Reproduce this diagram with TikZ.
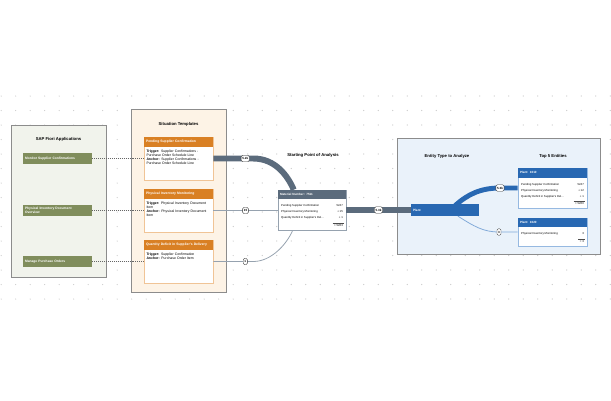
\documentclass[tikz,border=0pt]{standalone}
\usepackage{fontspec}
\setmainfont{Liberation Sans}
\usetikzlibrary{calc}
\usetikzlibrary{positioning}
\newlength{\pxu}
\setlength{\pxu}{0.05cm}
\definecolor{fioribg}{RGB}{241,243,236}
\definecolor{fioribtn}{RGB}{128,141,92}
\definecolor{tplbg}{RGB}{253,243,230}
\definecolor{tplhead}{RGB}{217,128,36}
\definecolor{tplline}{RGB}{240,196,150}
\definecolor{slate}{RGB}{91,107,124}
\definecolor{slatelight}{RGB}{150,162,175}
\definecolor{entbg}{RGB}{234,242,250}
\definecolor{entblue}{RGB}{40,104,178}
\definecolor{entline}{RGB}{150,185,225}
\definecolor{panelgray}{RGB}{140,140,140}
\definecolor{griddot}{RGB}{200,200,200}
\tikzset{
	panel/.style={draw=panelgray, line width=1.2pt, inner sep=0pt},
	paneltitle/.style={font=\fontsize{6}{7}\selectfont\bfseries},
	fioriapp/.style={
		fill=fioribtn, text=white,
		font=\fontsize{4.7}{5.2}\selectfont\bfseries,
		text width=65\pxu, minimum height=11\pxu,
		inner xsep=2\pxu, inner ysep=0pt, align=left},
	cardbox/.style={draw=tplline, fill=white, line width=0.8pt, minimum width=69\pxu, inner sep=0pt},
	cardhead/.style={
		fill=tplhead, text=white,
		font=\fontsize{4.8}{5.5}\selectfont\bfseries,
		text width=65\pxu, minimum height=10\pxu,
		inner xsep=2\pxu, inner ysep=0pt, align=left},
	cardtext/.style={font=\fontsize{4.9}{5.8}\selectfont, text width=64\pxu, inner sep=0pt, align=left},
	nodebox/.style={draw=slatelight, fill=white, line width=0.8pt, minimum width=68\pxu, inner sep=0pt},
	nodehead/.style={
		fill=slate, text=white,
		font=\fontsize{4.3}{5}\selectfont\bfseries,
		text width=64\pxu, minimum height=9\pxu,
		inner xsep=2\pxu, inner ysep=0pt, align=left},
	plantcard/.style={draw=entline, fill=white, line width=0.8pt, minimum width=69\pxu, inner sep=0pt},
	planthead/.style={nodehead, fill=entblue, text width=65\pxu},
	plantbox/.style={
		fill=entblue, text=white,
		font=\fontsize{4.5}{5}\selectfont\bfseries,
		text width=64\pxu, minimum height=12\pxu,
		inner xsep=2\pxu, inner ysep=0pt, align=left},
	rowtext/.style={font=\fontsize{4}{4.8}\selectfont, inner sep=0pt},
	sumline/.style={draw=black!70, line width=0.5pt},
	dotlink/.style={draw=black!60, dotted, line width=0.8pt},
	band/.style={draw=slate, line width=8.5pt},
	thinlink/.style={draw=slatelight, line width=1.1pt},
	blueband/.style={draw=entblue, line width=7pt},
	bluelink/.style={draw=entline!80!entblue, line width=1.1pt},
	flowcount/.style={
		draw=black!80, fill=white, rounded corners=1.5\pxu,
		font=\fontsize{4.3}{5}\selectfont\bfseries,
		inner xsep=1.2\pxu, inner ysep=1\pxu,
		minimum height=6.5\pxu, line width=0.5pt},
}
\begin{document}
\begin{tikzpicture}[x=0.05cm, y=-0.05cm]
	\useasboundingbox[fill=white] (0,0) rectangle (611,400);
	
	% dotted canvas
	\foreach \gx in {0,...,42}
		\foreach \gy in {0,...,14}
			\fill[griddot] ({1.2+14.5*\gx},{96+14.5*\gy}) circle (0.55\pxu);
	
	% panels
	\node[panel, fill=fioribg, minimum width=95\pxu, minimum height=152\pxu] (fiori) at (58.5,201) {};
	\node[panel, fill=tplbg, minimum width=95\pxu, minimum height=183\pxu] (templates) at (178.5,200.5) {};
	\node[panel, fill=entbg, minimum width=203\pxu, minimum height=116\pxu] (entities) at (498.5,196) {};
	
	\node[paneltitle] (fioriTitle) at (58.5,139) {SAP Fiori Applications};
	\node[paneltitle] (tplTitle) at (178.5,124) {Situation Templates};
	\node[paneltitle] (startTitle) at (313,155) {Starting Point of Analysis};
	\node[paneltitle] (typeTitle) at (447,156) {Entity Type to Analyze};
	\node[paneltitle] (topTitle) at (553,156) {Top 5 Entities};
	
	% fiori apps
	\node[fioriapp] (appMonitor) at (57.5,158.5) {Monitor Supplier Confirmations};
	\node[fioriapp] (appInventory) at (57.5,210.5) {Physical Inventory Document\\Overview};
	\node[fioriapp] (appOrders) at (57.5,261.5) {Manage Purchase Orders};
	
	% situation templates
	\node[cardbox, minimum height=43\pxu] (pending) at (178.5,158.5) {};
	\node[cardhead, anchor=north] (pendingHead) at (pending.north) {Pending Supplier Confirmation};
	\node[cardtext, below right=2.4\pxu and 2.5\pxu of pendingHead.south west] (pendingText)
		{\textbf{Trigger:} Supplier Confirmations -\\Purchase Order Schedule Line\\\textbf{Anchor:} Supplier Confirmations -\\Purchase Order Schedule Line};
	
	\node[cardbox, minimum height=43\pxu] (inventory) at (178.5,210.5) {};
	\node[cardhead, anchor=north] (inventoryHead) at (inventory.north) {Physical Inventory Monitoring};
	\node[cardtext, below right=2.4\pxu and 2.5\pxu of inventoryHead.south west] (inventoryText)
		{\textbf{Trigger:} Physical Inventory Document\\Item\\[0.8pt]\textbf{Anchor:} Physical Inventory Document\\Item};
	
	\node[cardbox, minimum height=43\pxu] (deficit) at (178.5,261.5) {};
	\node[cardhead, anchor=north] (deficitHead) at (deficit.north) {Quantity Deficit in Supplier's Delivery};
	\node[cardtext, below right=2.4\pxu and 2.5\pxu of deficitHead.south west] (deficitText)
		{\textbf{Trigger:} Supplier Confirmation\\\textbf{Anchor:} Purchase Order Item};
	
	% starting point
	\node[nodebox, minimum height=40\pxu] (material) at (312,210) {};
	\node[nodehead, anchor=north] (materialHead) at (material.north) {Material Number: 7511};
	\node[rowtext, anchor=west] (mRowA) at (281,205.5) {Pending Supplier Confirmation};
	\node[rowtext, anchor=east] (mValA) at (343,205.5) {5247};
	\node[rowtext, anchor=west] (mRowB) at (281,211.5) {Physical Inventory Monitoring};
	\node[rowtext, anchor=east] (mValB) at (343,211.5) {+ 15};
	\node[rowtext, anchor=west] (mRowC) at (281,217.3) {Quantity Deficit in Supplier's Del...};
	\node[rowtext, anchor=east] (mValC) at (343,217.3) {+ 1};
	\node[rowtext, anchor=east] (mTotal) at (343,226) {= 5263};
	\draw[sumline] ($(mTotal.north west)+(-1.5,-1.2)$) -- ($(mTotal.north east)+(0.5,-1.2)$);
	
	% entities
	\node[plantbox] (plant) at (445,210) {Plant};
	
	\node[plantcard, minimum height=40\pxu] (plantA) at (552.5,188) {};
	\node[planthead, minimum height=10\pxu, anchor=north] (plantAHead) at (plantA.north) {Plant: 1010};
	\node[rowtext, anchor=west] (pRowA) at (521,185) {Pending Supplier Confirmation};
	\node[rowtext, anchor=east] (pValA) at (584,185) {5247};
	\node[rowtext, anchor=west] (pRowB) at (521,190.6) {Physical Inventory Monitoring};
	\node[rowtext, anchor=east] (pValB) at (584,190.6) {+ 12};
	\node[rowtext, anchor=west] (pRowC) at (521,196.3) {Quantity Deficit in Supplier's Del...};
	\node[rowtext, anchor=east] (pValC) at (584,196.3) {+ 1};
	\node[rowtext, anchor=east] (pTotal) at (584,203.8) {= 5260};
	\draw[sumline] ($(pTotal.north west)+(-1.5,-1.2)$) -- ($(pTotal.north east)+(0.5,-1.2)$);
	
	\node[plantcard, minimum height=28\pxu] (plantB) at (552.5,232) {};
	\node[planthead, anchor=north] (plantBHead) at (plantB.north) {Plant: 1020};
	\node[rowtext, anchor=west] (qRowA) at (521,234) {Physical Inventory Monitoring};
	\node[rowtext, anchor=east] (qValA) at (584,234) {3};
	\node[rowtext, anchor=east] (qTotal) at (584,241.3) {= 3};
	\draw[sumline] ($(qTotal.north west)+(-1.5,-1.2)$) -- ($(qTotal.north east)+(0.5,-1.2)$);
	
	% connectors
	\draw[dotlink] (appMonitor.east) -- (pending.west);
	\draw[dotlink] (appInventory.east) -- (inventory.west);
	\draw[dotlink] (appOrders.east) -- (deficit.west);
	
	\draw[band] (pending.east) -- ++(40,0) node[flowcount, pos=.8] (cntPending) {5.2k}
		.. controls +(22,0) and +(-6,-14) .. ($(material.north west)+(16,0)$);
	\draw[thinlink] (inventory.east) -- node[flowcount] (cntInventory) {15} (inventory.east -| material.west);
	\draw[thinlink] (deficit.east) -- ++(40,0) node[flowcount, pos=.8] (cntDeficit) {1}
		.. controls +(18,0) and +(-6,14) .. ($(material.south west)+(15,0)$);
	\draw[band] (material.east) -- node[flowcount] (cntMaterial) {5.3k} (plant.west);
	
	\draw[blueband] ($(plant.north west)+(44,2)$) .. controls +(12,-11) and +(-20,0) .. (500,188)
		node[flowcount] (cntPlantA) {5.3k} -- (plantA.west);
	\draw[bluelink] ($(plant.south west)+(47,0)$) .. controls +(16,10) and +(-16,0) .. (499,232)
		node[flowcount] (cntPlantB) {3} -- (plantB.west);
\end{tikzpicture}
\end{document}
